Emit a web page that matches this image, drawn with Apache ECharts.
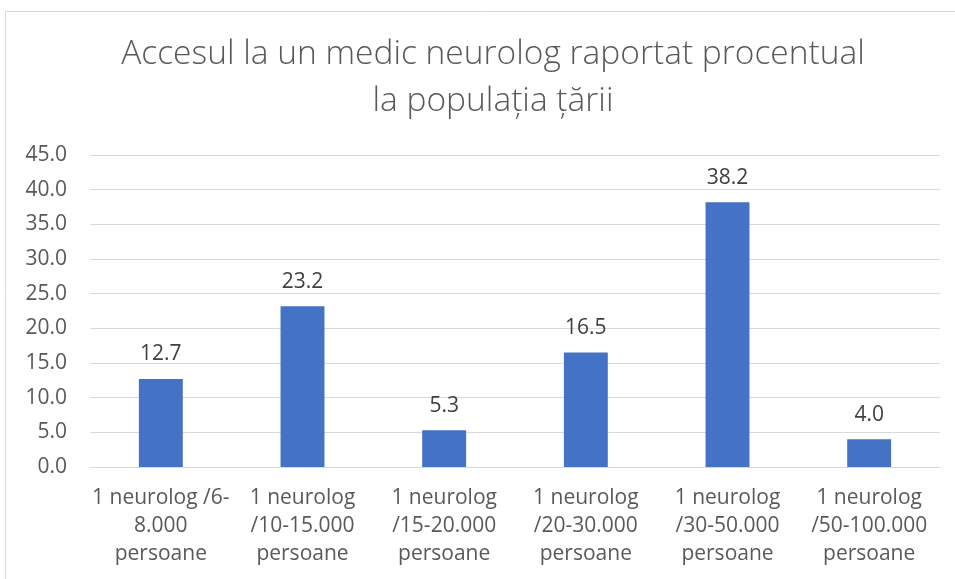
<!DOCTYPE html>
<html lang="ro">
<head>
	<meta charset="UTF-8">
	<title>Accesul la un medic neurolog</title>
	<script src="https://cdn.jsdelivr.net/npm/echarts@6/dist/echarts.min.js"></script>
</head>
<body style="margin:0">
	<div id="main" style="width: 955px;height:579px;"></div>
	<script type="text/javascript">
		var categorii = [
			'1 neurolog /6-\n8.000\npersoane',
			'1 neurolog\n/10-15.000\npersoane',
			'1 neurolog\n/15-20.000\npersoane',
			'1 neurolog\n/20-30.000\npersoane',
			'1 neurolog\n/30-50.000\npersoane',
			'1 neurolog\n/50-100.000\npersoane'
		];
		var procente = [12.7, 23.2, 5.3, 16.5, 38.2, 4.0];

		var font = 'Open Sans, Noto Sans, sans-serif';
		var myChart = echarts.init(document.getElementById('main'));

		var option = {
			backgroundColor: '#fff',
			animation: false,
			graphic: [{
				type: 'rect',
				shape: {x: 5.5, y: 11.5, width: 980, height: 620},
				style: {fill: 'none', stroke: '#d9d9d9', lineWidth: 1}
			}],
			title: {
				text: 'Accesul la un medic neurolog raportat procentual\nla populația țării',
				left: 488,
				textAlign: 'center',
				top: 26,
				textStyle: {
					color: '#595959',
					fontFamily: font,
					fontWeight: 300,
					fontSize: 33.5,
					lineHeight: 47
				}
			},
			grid: {left: 90, right: 15, top: 155, bottom: 112},
			xAxis: {
				type: 'category',
				data: categorii,
				axisLine: {lineStyle: {color: '#d9d9d9'}},
				axisTick: {show: false},
				axisLabel: {
					color: '#595959',
					fontFamily: font,
					fontSize: 21,
					lineHeight: 28,
					margin: 17,
					interval: 0
				}
			},
			yAxis: {
				type: 'value',
				min: 0,
				max: 45,
				interval: 5,
				axisLine: {show: false},
				axisTick: {show: false},
				splitLine: {lineStyle: {color: '#d9d9d9'}},
				axisLabel: {
					color: '#595959',
					fontFamily: font,
					fontSize: 21,
					margin: 23,
					formatter: function (v) { return v.toFixed(1); }
				}
			},
			series: [{
				type: 'bar',
				data: procente,
				barWidth: '31%',
				itemStyle: {color: '#4472c4'},
				label: {
					show: true,
					position: 'top',
					distance: 14,
					color: '#404040',
					fontFamily: font,
					fontSize: 21,
					formatter: function (p) { return p.value.toFixed(1); }
				}
			}]
		};

		myChart.setOption(option);
	</script>
</body>
</html>
